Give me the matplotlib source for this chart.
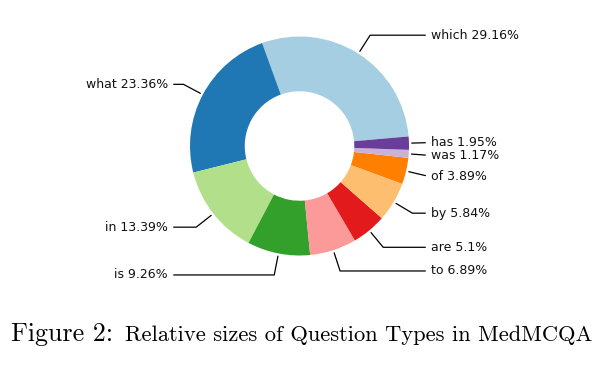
import numpy as np
import matplotlib
matplotlib.use('Agg')
import matplotlib.pyplot as plt

labels = ['which', 'what', 'in', 'is', 'to', 'are', 'by', 'of', 'was', 'has']
sizes = [29.16, 23.36, 13.39, 9.26, 6.89, 5.1, 5.84, 3.89, 1.17, 1.95]
caption_head = 'Figure 2:'
caption_body = 'Relative sizes of Question Types in MedMCQA'

colors = plt.cm.Paired(np.arange(len(labels)))

fig = plt.figure(figsize=(6.12, 3.66), dpi=100)
ax = fig.add_axes([0, 0, 1, 1])

wedges, _ = ax.pie(sizes, colors=colors, startangle=5, counterclock=True,
                   wedgeprops=dict(width=0.5))

# one data unit = 109.5 px, center of the donut at (299.5, 146) px
r_px = 109.5
ax.set_xlim(-299.5 / r_px, (612 - 299.5) / r_px)
ax.set_ylim(-(366 - 146) / r_px, 146 / r_px)
ax.set_aspect('auto')
ax.axis('off')

for i, w in enumerate(wedges):
    ang = (w.theta2 - w.theta1) / 2. + w.theta1
    x = np.cos(np.deg2rad(ang))
    y = np.sin(np.deg2rad(ang))
    ha = 'left' if x > 0 else 'right'
    conn = f'angle,angleA=0,angleB={ang}'
    ax.annotate(f'{labels[i]} {sizes[i]}%', xy=(x, y),
                xytext=(1.2 * np.sign(x), 1.2 * y),
                ha=ha, va='center', fontsize=9, color='#111111',
                arrowprops=dict(arrowstyle='-', connectionstyle=conn,
                                color='black', lw=0.9))

# caption (baseline at 341 px)
base_y = (366 - 341) / 366
fig.text(11 / 612, base_y, caption_head, family='cmr10',
         fontsize=18.7, va='baseline', ha='left')
fig.text(125 / 612, base_y, caption_body, family='cmr10',
         fontsize=16.2, va='baseline', ha='left')

fig.savefig('out.png', dpi=100, facecolor='white')
